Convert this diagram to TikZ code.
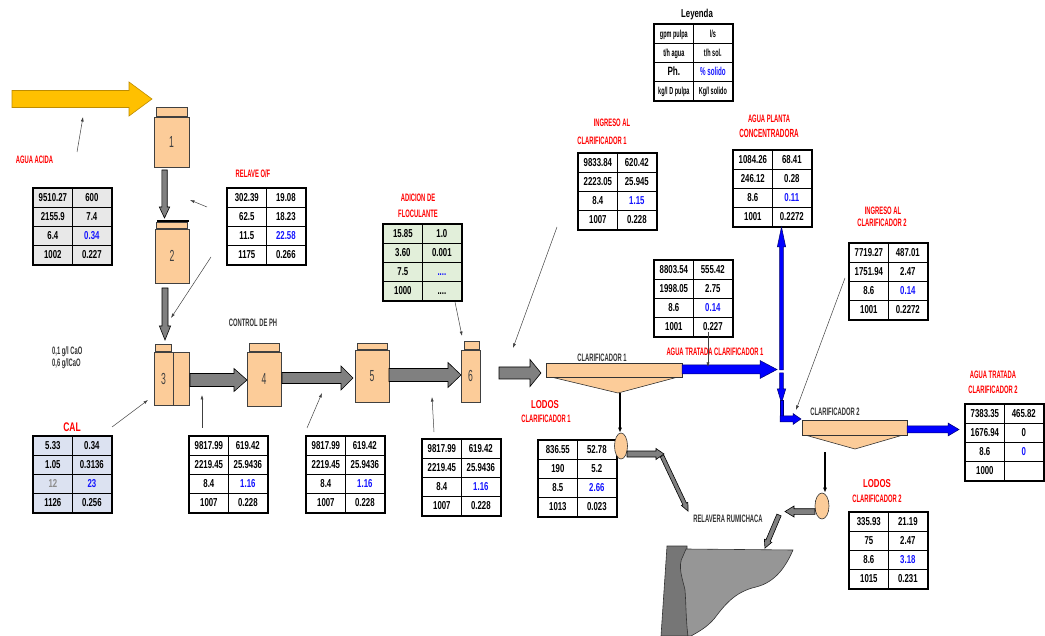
\documentclass[tikz,border=0pt]{standalone}
\usepackage{fontspec}
\setmainfont{Liberation Sans}
\newfontfamily\tabff[FakeStretch=0.68]{Liberation Sans}
\newfontfamily\labff[FakeStretch=0.54]{Liberation Sans}
\usetikzlibrary{matrix,arrows.meta,shapes.geometric}
\definecolor{peach}{RGB}{252,204,153}
\definecolor{garrow}{RGB}{128,128,128}
\definecolor{yarrow}{RGB}{255,192,0}
\definecolor{yedge}{RGB}{190,140,0}
\definecolor{barrowc}{RGB}{0,0,255}
\definecolor{bedge}{RGB}{0,0,110}
\definecolor{fgray}{RGB}{232,232,232}
\definecolor{fblue}{RGB}{220,226,241}
\definecolor{fgreen}{RGB}{226,239,218}
\definecolor{lred}{RGB}{255,0,0}
\definecolor{vblue}{RGB}{20,20,255}
\definecolor{wallc}{RGB}{118,118,118}
\definecolor{bodyc}{RGB}{150,150,150}
\newcommand\tabf{\tabff\bfseries\fontsize{11.5}{12}\selectfont}
\newcommand\labf{\labff\bfseries\fontsize{10.8}{12}\selectfont}
\newcommand\legf{\labff\bfseries\fontsize{10.2}{12}\selectfont}
\newcommand\tnum{\labff\fontsize{16}{16}\selectfont}
% x, y, angle, length, shaft half width, head half width, head length, style
\newcommand\barrow[8]{%
  \begin{scope}[shift={(#1,#2)},rotate=#3]
    \filldraw[#8] (0,-#5) -- ({#4-#7},-#5) -- ({#4-#7},-#6) -- (#4,0) -- ({#4-#7},#6) -- ({#4-#7},#5) -- (0,#5) -- cycle;
  \end{scope}}
\tikzset{
  dtab/.style={matrix of nodes, anchor=north west, inner sep=0pt, draw=black, line width=1.5pt,
    column sep=-1.2pt, row sep=-1.2pt,
    nodes={draw=black, line width=1.2pt, minimum width=39, minimum height=19, inner sep=0pt,
      font=\tabf, text=black, anchor=center, text height=8pt, text depth=0pt}},
  tank/.style={draw=black!75, line width=0.6pt, fill=peach, inner sep=0pt, font=\tnum, text=black!75},
  clar/.style={draw=black!80, line width=0.6pt, fill=peach, inner sep=0pt},
  pump/.style={ellipse, draw=black!80, line width=0.6pt, fill=peach, inner sep=0pt},
  garr/.style={fill=garrow, draw=black, line width=0.6pt},
  yarr/.style={fill=yarrow, draw=yedge, line width=0.6pt},
  barr/.style={fill=barrowc, draw=bedge, line width=0.5pt},
  ann/.style={draw=black!75, line width=0.5pt, -{Latex[length=4.5pt,width=3pt]}},
  feed/.style={draw=black, line width=1.6pt, -{Latex[length=5pt,width=4pt]}},
  rlab/.style={font=\labf, text=lred, inner sep=0pt},
  dlab/.style={font=\labf, text=black!80, inner sep=0pt},
}
\begin{document}
\begin{tikzpicture}[x=1pt,y=-1pt]
\useasboundingbox (0,0) rectangle (1045,636);

% ---------- yellow feed arrow ----------
\barrow{12}{99}{0}{140}{8.5}{17}{23}{yarr}
\node[rlab] (lacida) at (34.5,160) {AGUA ACIDA};
\coordinate (acs) at (77,152);
\coordinate (ace) at (83,117);
\draw[ann] (acs) -- (ace);

\matrix (tA) [dtab, fill=fgray] at (32,187) {
9510.27 & 600\\
2155.9 & 7.4\\
6.4 & |[text=vblue]| 0.34\\
1002 & 0.227\\
};

% ---------- tanks ----------
\node[tank, minimum width=35, minimum height=50] (t1) at (171.5,142) {1};
\node[tank, minimum width=31, minimum height=9, anchor=south] (t1top) at (t1.north) {};
\node[tank, minimum width=34, minimum height=54] (t2) at (172,256) {2};
\node[tank, minimum width=31, minimum height=6, anchor=south] (t2top) at (t2.north) {};
\draw[line width=2pt] (157,221) -- (189,221);
\node[tank, minimum width=19, minimum height=53] (t3) at (163.5,378.5) {3};
\node[tank, minimum width=16, minimum height=53, anchor=west] (t3b) at (t3.east) {};
\node[tank, minimum width=16, minimum height=7, anchor=south] (t3top) at (t3.north) {};
\node[tank, minimum width=34, minimum height=54] (t4) at (264,379) {4};
\node[tank, minimum width=30, minimum height=8, anchor=south] (t4top) at (t4.north) {};
\node[tank, minimum width=34, minimum height=52] (t5) at (372,376) {5};
\node[tank, minimum width=30, minimum height=6, anchor=south] (t5top) at (t5.north) {};
\node[tank, minimum width=19, minimum height=52] (t6) at (470.5,376) {6};
\node[tank, minimum width=15, minimum height=8, anchor=south] (t6top) at ([xshift=1]t6.north) {};

% ---------- gray block arrows ----------
\barrow{164.5}{170}{-90}{48}{2.7}{5.2}{11}{garr}
\barrow{165}{288}{-90}{52}{3}{5.6}{14}{garr}
\barrow{190}{380}{0}{57}{6.5}{11.5}{13}{garr}
\barrow{282}{378}{0}{71}{5.5}{12}{12}{garr}
\barrow{389}{375}{0}{72}{6.5}{12.5}{13}{garr}
\barrow{499}{373}{0}{42}{6}{13.5}{11}{garr}

% ---------- relave O/F ----------
\node[rlab] (lrel) at (253,174) {RELAVE O/F};
\matrix (tR) [dtab, fill=white] at (226,187) {
302.39 & 19.08\\
62.5 & 18.23\\
11.5 & |[text=vblue]| 22.58\\
1175 & 0.266\\
};
\draw[ann] (207,207) -- (190,200);
\draw[ann] (211,257) -- (171,318);

\node[dlab] (lph) at (253,323) {CONTROL DE PH};
\node[dlab, anchor=west] (lcao1) at (52,352) {0,1 g/l CaO};
\node[dlab, anchor=west] (lcao2) at (52,364) {0,6 g/lCaO};

% ---------- CAL ----------
\node[font=\tabff\bfseries\fontsize{12.5}{13}\selectfont, text=lred, inner sep=0pt] (lcal) at (72,427) {CAL};
\matrix (tC) [dtab, fill=fblue] at (32,435) {
5.33 & 0.34\\
1.05 & 0.3136\\
|[text=black!45]| 12 & |[text=vblue]| 23\\
1126 & 0.256\\
};
\draw[ann] (112,427) -- (148,400);

% ---------- tables under tanks ----------
\matrix (tQ1) [dtab, fill=white] at (188,435) {
9817.99 & 619.42\\
2219.45 & 25.9436\\
8.4 & |[text=vblue]| 1.16\\
1007 & 0.228\\
};
\draw[ann] (202,428) -- (202,395);
\matrix (tQ2) [dtab, fill=white] at (305,435) {
9817.99 & 619.42\\
2219.45 & 25.9436\\
8.4 & |[text=vblue]| 1.16\\
1007 & 0.228\\
};
\draw[ann] (307,428) -- (322,393);
\matrix (tQ3) [dtab, fill=white] at (421,438) {
9817.99 & 619.42\\
2219.45 & 25.9436\\
8.4 & |[text=vblue]| 1.16\\
1007 & 0.228\\
};
\draw[ann] (434,432) -- (432,397);

% ---------- floculante ----------
\node[rlab] (lfl1) at (418,198) {ADICION DE};
\node[rlab] (lfl2) at (418,214) {FLOCULANTE};
\matrix (tF) [dtab, fill=fgreen] at (382,223) {
15.85 & 1.0\\
3.60 & 0.001\\
7.5 & |[text=vblue]| ....\\
1000 & ....\\
};
\draw[ann] (455,302) -- (462,336);

% ---------- leyenda ----------
\node[font=\tabff\bfseries\fontsize{11.5}{12}\selectfont, inner sep=0pt] (lley) at (697,15) {Leyenda};
\matrix (tL) [dtab, fill=white, nodes={font=\legf}] at (653,23) {
gpm pulpa & l/s\\
t/h agua & t/h sol.\\
|[font=\tabff\bfseries\fontsize{12}{12}\selectfont]| Ph. & |[text=vblue, font=\labff\bfseries\fontsize{11.5}{12}\selectfont]| \% solido\\
kg/l D pulpa & Kg/l solido\\
};

% ---------- ingreso clarificador 1 ----------
\node[rlab] (li1a) at (612,123) {INGRESO AL};
\node[rlab] (li1b) at (602,141) {CLARIFICADOR 1};
\matrix (tI1) [dtab, fill=white] at (577,152) {
9833.84 & 620.42\\
2223.05 & 25.945\\
8.4 & |[text=vblue]| 1.15\\
1007 & 0.228\\
};
\draw[ann] (557,227) -- (513,348);

% ---------- agua planta concentradora ----------
\node[rlab] (lpa) at (769,119) {AGUA PLANTA};
\node[rlab, font=\labff\bfseries\fontsize{11.8}{12}\selectfont] (lpb) at (769,133) {CONCENTRADORA};
\matrix (tP) [dtab, fill=white] at (732,149) {
1084.26 & 68.41\\
246.12 & 0.28\\
8.6 & |[text=vblue]| 0.11\\
1001 & 0.2272\\
};

% ---------- clarificador 1 ----------
\filldraw[clar] (551,377) -- (678,377) -- (618,393) -- cycle;
\node[clar, minimum width=136, minimum height=14] (c1) at (614,370) {};
\node[dlab] (lc1) at (602,358) {CLARIFICADOR 1};
\barrow{682}{369.5}{0}{95}{4.5}{9}{17}{barr}
\node[rlab] (lat1) at (715,352) {AGUA TRATADA CLARIFICADOR 1};
\matrix (tT1) [dtab, fill=white] at (653,259) {
8803.54 & 555.42\\
1998.05 & 2.75\\
8.6 & |[text=vblue]| 0.14\\
1001 & 0.227\\
};
\draw[ann] (708,332) -- (708,367);

% blue vertical
\barrow{781.5}{370}{90}{143}{1.8}{4.2}{20}{barr}
\barrow{781.5}{373}{-90}{30}{1.8}{4.2}{14}{barr}
\filldraw[barr] (779.8,400) -- (779.8,421) -- (783.2,421) -- (783.2,400) -- cycle;
\barrow{780}{419}{0}{21}{3}{5.5}{8}{barr}

% ---------- lodos clarificador 1 ----------
\node[rlab, font=\tabff\bfseries\fontsize{11.5}{12}\selectfont] (ll1a) at (545,405) {LODOS};
\node[rlab] (ll1b) at (546,419) {CLARIFICADOR 1};
\matrix (tL1) [dtab, fill=white] at (537,439) {
836.55 & 52.78\\
190 & 5.2\\
8.5 & |[text=vblue]| 2.66\\
1013 & 0.023\\
};
\node[pump, minimum width=13, minimum height=26] (p1) at (621,446) {};
\coordinate (c1out) at (620,393);
\draw[feed] (c1out) -- (c1out |- p1.north);
\barrow{627}{454}{0}{37}{3}{5.5}{8}{garr}
\barrow{662}{456}{-64.7}{61}{2}{3.6}{8}{garr}

% ---------- relavera ----------
\node[dlab] (lrr) at (728,519) {RELAVERA RUMICHACA};
\filldraw[fill=wallc, draw=black!80, line width=0.6pt] (667,546) -- (687,546) -- (688,636) -- (661,636) -- cycle;
\filldraw[fill=bodyc, draw=black!80, line width=0.6pt] (686,549) -- (793,550)
  .. controls (786,566) and (776,582) .. (756,587)
  .. controls (734,592) and (724,606) .. (714,619)
  .. controls (706,628) and (698,632) .. (691,636)
  -- (688,636)
  .. controls (686,622) and (686,602) .. (685,590)
  .. controls (683,580) and (677,566) .. (683,556) -- cycle;

% ---------- clarificador 2 ----------
\node[rlab] (li2a) at (883,211) {INGRESO AL};
\node[rlab] (li2b) at (882,223) {CLARIFICADOR 2};
\matrix (tI2) [dtab, fill=white] at (848,242) {
7719.27 & 487.01\\
1751.94 & 2.47\\
8.6 & |[text=vblue]| 0.14\\
1001 & 0.2272\\
};
\draw[ann] (845,278) -- (796,410);
\filldraw[clar] (805,435) -- (903,435) -- (855,449) -- cycle;
\node[clar, minimum width=105, minimum height=15] (c2) at (854.5,427.5) {};
\node[dlab] (lc2) at (835,412) {CLARIFICADOR 2};
\barrow{907}{429.5}{0}{52}{3.5}{6.5}{11}{barr}
\node[rlab] (lat2a) at (993,375) {AGUA TRATADA};
\node[rlab] (lat2b) at (993,390) {CLARIFICADOR 2};
\matrix (tT2) [dtab, fill=white] at (964,403) {
7383.35 & 465.82\\
1676.94 & 0\\
8.6 & |[text=vblue]| 0\\
1000 & ~\\
};

% ---------- lodos clarificador 2 ----------
\node[rlab, font=\tabff\bfseries\fontsize{11.5}{12}\selectfont] (ll2a) at (877,484) {LODOS};
\node[rlab] (ll2b) at (877,499) {CLARIFICADOR 2};
\matrix (tL2) [dtab, fill=white] at (848,511) {
335.93 & 21.19\\
75 & 2.47\\
8.6 & |[text=vblue]| 3.18\\
1015 & 0.231\\
};
\node[pump, minimum width=14, minimum height=26] (p2) at (822,506) {};
\coordinate (c2out) at (825,452);
\draw[feed] (c2out) -- (c2out |- p2.north);
\barrow{815}{511.5}{180}{30}{2.8}{5.5}{9}{garr}
\barrow{779}{515}{-113}{36}{2.3}{4}{8}{garr}
\end{tikzpicture}
\end{document}
